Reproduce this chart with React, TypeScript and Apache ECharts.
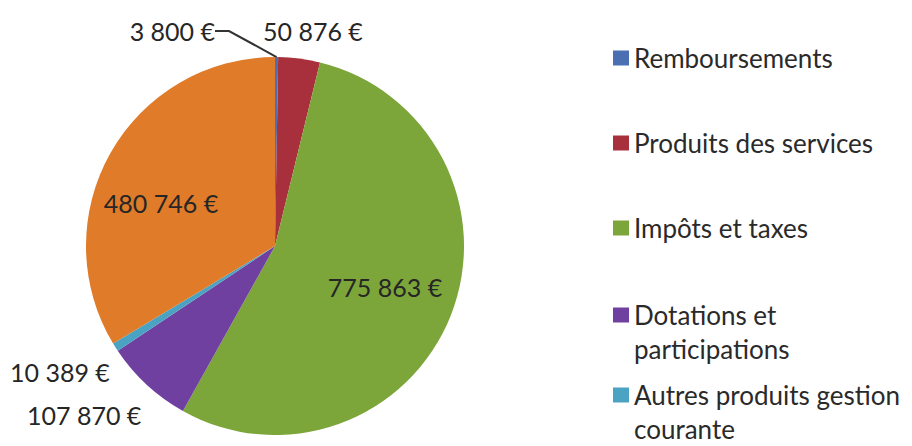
import React, { useEffect, useRef } from "react";
import * as echarts from "echarts";

const categories = [
  "Remboursements",
  "Produits des services",
  "Impôts et taxes",
  "Dotations et participations",
  "Autres produits gestion courante",
  "Autres recettes",
];
const values = [3800, 50876, 775863, 107870, 10389, 480746];
const colors = ["#4A6FB3", "#A8303C", "#7CA53A", "#7040A0", "#4BA3C3", "#DF7B29"];
const legendNames = categories.slice(0, 5);
const legendLabels = [
  "Remboursements",
  "Produits des services",
  "Impôts et taxes",
  "Dotations et\nparticipations",
  "Autres produits gestion\ncourante",
];

const FONT = "Lato, 'Open Sans', sans-serif";
const FS = 25;
const LFS = 26;
const LH = 34;

function fmt(v: number): string {
  return v.toString().replace(/\B(?=(\d{3})+(?!\d))/g, " ") + " €";
}

// label anchor positions (x, y, align)
const labelPos: [number, number, "left" | "right" | "center"][] = [
  [215, 31, "right"],
  [263, 31, "left"],
  [385, 287, "center"],
  [27, 415, "left"],
  [10, 372, "left"],
  [161, 203, "center"],
];

const legendCenters = [58, 143, 228, 315, 395];

export default function App() {
  const ref = useRef<HTMLDivElement>(null);
  useEffect(() => {
    if (!ref.current) return;
    const chart = echarts.init(ref.current, null, { renderer: "svg" });
    const legends = legendNames.map((name, i) => {
      const twoLine = legendLabels[i].includes("\n");
      return {
        show: true,
        data: [name],
        orient: "vertical",
        left: 613,
        top: twoLine ? legendCenters[i] - LH * 1.5 : legendCenters[i] - LH / 2,
        padding: 0,
        itemWidth: 16,
        itemHeight: 15,
        itemGap: 0,
        icon: "rect",
        selectedMode: false,
        formatter: () => (twoLine ? "\n" + legendLabels[i] : legendLabels[i]),
        textStyle: {
          fontFamily: FONT,
          fontSize: LFS,
          color: "#2a2a2a",
          lineHeight: LH,
        },
      };
    });
    chart.setOption({
      animation: false,
      backgroundColor: "#fff",
      legend: legends,
      series: [
        {
          type: "pie",
          center: [275, 246],
          radius: 189,
          startAngle: 90,
          clockwise: true,
          avoidLabelOverlap: false,
          data: categories.map((name, i) => ({
            name,
            value: values[i],
            itemStyle: { color: colors[i] },
            labelLine: { show: i === 0 },
          })),
          itemStyle: { borderWidth: 0 },
          label: {
            show: true,
            position: "outside",
            formatter: (p: any) => fmt(p.value),
            fontFamily: FONT,
            fontSize: FS,
            color: "#262626",
          },
          labelLine: {
            show: true,
            length: 8,
            length2: 14,
            lineStyle: { color: "#333", width: 2 },
          },
          emphasis: { disabled: true },
          labelLayout: (params: any) => {
            const [x, y, align] = labelPos[params.dataIndex];
            return { x, y, align, verticalAlign: "middle" };
          },
        },
      ],
    });
    return () => chart.dispose();
  }, []);
  return (
    <div
      ref={ref}
      style={{ position: "fixed", left: 0, top: 0, width: 912, height: 446 }}
    />
  );
}
